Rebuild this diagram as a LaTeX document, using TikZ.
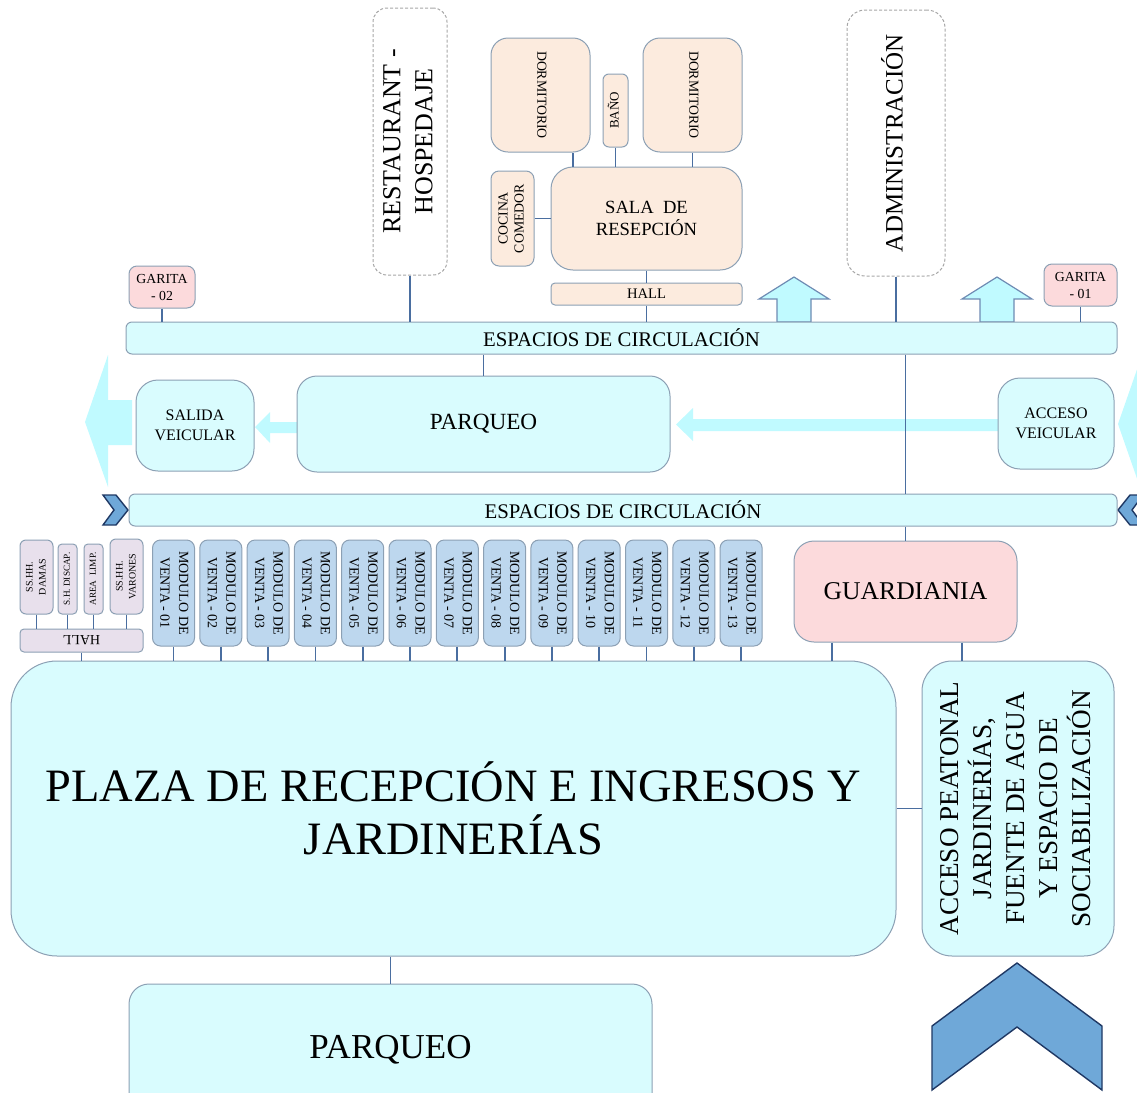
\documentclass[tikz,border=0pt]{standalone}
\usepackage{fontspec}
\setmainfont{Liberation Serif}
\usepackage{graphicx}
\usetikzlibrary{positioning,calc}

\definecolor{cyanbox}{RGB}{217,252,254}
\definecolor{cyanarrow}{RGB}{192,250,255}
\definecolor{peach}{RGB}{252,235,222}
\definecolor{pinkbox}{RGB}{252,218,220}
\definecolor{lilac}{RGB}{232,224,236}
\definecolor{modblue}{RGB}{189,215,238}
\definecolor{edgegray}{RGB}{140,160,180}
\definecolor{wirecol}{RGB}{74,110,160}
\definecolor{chevfill}{RGB}{111,168,216}
\definecolor{chevline}{RGB}{31,56,100}

\newcommand{\setfs}[2]{\fontsize{#1}{#2}\selectfont}
\newcommand{\vtext}[2]{\rotatebox{#1}{\begin{tabular}{@{}c@{}}#2\end{tabular}}}

\begin{document}
\begin{tikzpicture}[x=0.5pt, y=-0.5pt,
  box/.style={draw=edgegray, line width=0.5pt, inner sep=0pt, align=center},
  wh/.style 2 args={minimum width=#1*0.5pt, minimum height=#2*0.5pt},
  fs/.style 2 args={font=\setfs{#1}{#2}},
  dashbox/.style={box, draw=gray!70, dash pattern=on 1.5pt off 1pt},
  wire/.style={draw=wirecol, line width=0.9pt},
  flow/.style={fill=cyanarrow},
  uparrow/.style={fill=cyanarrow, draw=wirecol!80, line width=0.6pt},
  chev/.style={fill=chevfill, draw=chevline, line width=0.7pt, line join=miter}]
  \useasboundingbox (0,0) rectangle (1137,1093);

  % vehicle flow arrows (behind everything)
  \fill[flow] (85,422) -- (108,355) -- (108,400) -- (132,400) -- (132,445) -- (108,445) -- (108,487) -- cycle;
  \fill[flow] (1118,424) -- (1141,358) -- (1141,402) -- (1170,402) -- (1170,447) -- (1141,447) -- (1141,490) -- cycle;
  \fill[flow] (255,427) -- (270,412) -- (270,422) -- (297,422) -- (297,433) -- (270,433) -- (270,443) -- cycle;
  \fill[flow] (676,424.5) -- (693,408) -- (693,419) -- (998,419) -- (998,431) -- (693,431) -- (693,441) -- cycle;
  % access arrows on the upper circulation
  \foreach \ax in {794,997}
    \draw[uparrow] (\ax-17,322) -- (\ax-17,299) -- (\ax-35,299) -- (\ax,277)
      -- (\ax+35,299) -- (\ax+17,299) -- (\ax+17,322) -- cycle;
  % chevrons
  \draw[chev] (103,495) -- (116,495) -- (128,510) -- (116,525) -- (103,525) -- (114,510) -- cycle;
  \draw[chev] (1118,510) -- (1130,495) -- (1143,495) -- (1132,510) -- (1143,525) -- (1130,525) -- cycle;
  \draw[chev] (1017,963) -- (1102,1026) -- (1102,1090) -- (1017,1027) -- (932,1090) -- (932,1026) -- cycle;

  % upper block: restaurant, lodging, administration
  \node[dashbox, wh={74}{267}, rounded corners=7pt, fs={13}{16}] (rest) at (410,141.5)
    {\vtext{90}{RESTAURANT -\\HOSPEDAJE}};
  \node[box, fill=peach, wh={99}{114}, rounded corners=8.5pt, fs={6.9}{8}] (dormA) at (540.5,95)
    {\vtext{-90}{DORMITORIO}};
  \node[box, fill=peach, wh={25}{73}, rounded corners=3pt, fs={6.5}{8}] (bano) at (615.5,110.5)
    {\vtext{90}{BAÑO}};
  \node[box, fill=peach, wh={99}{114}, rounded corners=8.5pt, fs={6.9}{8}] (dormB) at (692.5,95)
    {\vtext{-90}{DORMITORIO}};
  \node[box, fill=peach, wh={43}{95}, rounded corners=4pt, fs={6.9}{8}] (cocina) at (512.5,218.5)
    {\vtext{90}{COCINA\\COMEDOR}};
  \node[box, fill=peach, wh={191}{103}, rounded corners=11pt, fs={9.3}{11}] (sala) at (646.5,218.5)
    {SALA\ \ DE\\RESEPCIÓN};
  \node[box, fill=peach, wh={191}{22}, rounded corners=2pt, fs={7.3}{8}] (hallA) at (646.5,294)
    {HALL};
  \node[dashbox, wh={98}{266}, rounded corners=9pt, fs={12.5}{14}] (admin) at (896,143)
    {\vtext{90}{ADMINISTRACIÓN}};
  \node[box, fill=pinkbox, wh={66}{42}, rounded corners=4pt, fs={6.9}{8.5}] (garB) at (162,287)
    {GARITA\\- 02};
  \node[box, fill=pinkbox, wh={73}{42}, rounded corners=4pt, fs={6.9}{8.5}] (garA) at (1080.5,285)
    {GARITA\\- 01};

  % circulation and parking
  \node[box, fill=cyanbox, wh={991}{32}, rounded corners=3pt, fs={10.4}{12}] (circA) at (621.5,338)
    {ESPACIOS DE CIRCULACIÓN};
  \node[box, fill=cyanbox, wh={118}{91}, rounded corners=11pt, fs={8}{10}] (salida) at (195,425.5)
    {SALIDA\\VEICULAR};
  \node[box, fill=cyanbox, wh={373}{96}, rounded corners=10pt, fs={11.6}{13}] (parqA) at (483.5,424)
    {PARQUEO};
  \node[box, fill=cyanbox, wh={116}{91}, rounded corners=11pt, fs={8}{10}] (acceso) at (1056,423.5)
    {ACCESO\\VEICULAR};
  \node[box, fill=cyanbox, wh={988}{32}, rounded corners=3pt, fs={10.4}{12}] (circB) at (623,510)
    {ESPACIOS DE CIRCULACIÓN};

  % plaza, pedestrian access, lower parking
  \node[box, fill=cyanbox, wh={885}{295}, rounded corners=23pt, fs={23.2}{26.5}] (plaza) at (453.5,808.5)
    {PLAZA DE RECEPCIÓN E INGRESOS Y\\JARDINERÍAS};
  \node[box, fill=cyanbox, wh={192}{295}, rounded corners=15pt, fs={13.6}{16.5}] (peatonal) at (1018,808.5)
    {\vtext{90}{ACCESO PEATONAL\\JARDINERÍAS,\\FUENTE DE AGUA\\Y ESPACIO DE\\SOCIABILIZACIÓN}};
  \node[box, fill=cyanbox, wh={523}{132}, rounded corners=10pt, fs={17.5}{19}] (parqB) at (390.5,1050)
    {PARQUEO};
  \node[box, fill=pinkbox, wh={223}{101}, rounded corners=10pt, fs={12.8}{14}] (guard) at (905.5,591.5)
    {GUARDIANIA};

  % toilets and hall
  \node[box, fill=lilac, wh={33}{74}, rounded corners=3pt, fs={5}{6.5}] (damas) at (36.5,577)
    {\vtext{90}{SS.HH.\\DAMAS}};
  \node[box, fill=lilac, wh={19}{70}, rounded corners=2pt, fs={4.6}{6}] (discap) at (67.5,579)
    {\vtext{90}{S.H. DISCAP.}};
  \node[box, fill=lilac, wh={19}{70}, rounded corners=2pt, fs={4.6}{6}] (limp) at (93.5,579)
    {\vtext{90}{AREA\ \ LIMP.}};
  \node[box, fill=lilac, wh={33}{75}, rounded corners=3pt, fs={5}{6.5}] (varones) at (126.5,576.5)
    {\vtext{90}{SS.HH.\\VARONES}};
  \node[box, fill=lilac, wh={123}{23}, rounded corners=2pt, fs={7}{8}] (hallB) at (81.5,640.5)
    {\rotatebox{180}{HALL}};

  % sales modules
  \foreach \i in {1,...,13}{
    \pgfmathsetmacro\mx{173.5+(\i-1)*47.3}
    \node[box, fill=modblue, wh={42}{106}, rounded corners=4pt, fs={7}{9.3}] (m\i) at (\mx,593)
      {\vtext{-90}{MODULO DE\\VENTA - \ifnum\i<10 0\fi\i}};
    \draw[wire] (m\i.south) -- (m\i.south |- plaza.north);
  }

  % connectors
  \draw[wire] (rest.south) -- (rest.south |- circA.north);
  \draw[wire] ($(dormA.south)+(32.5,0)$) coordinate (dA) -- (dA |- sala.north);
  \draw[wire] (bano.south) -- (bano.south |- sala.north);
  \draw[wire] (dormB.south) -- (dormB.south |- sala.north);
  \draw[wire] (cocina.east) -- (cocina.east -| sala.west);
  \draw[wire] (sala.south) -- (hallA.north);
  \draw[wire] (hallA.south) -- (hallA.south |- circA.north);
  \draw[wire] (admin.south) -- (admin.south |- circA.north);
  \draw[wire] (garB.south) -- (garB.south |- circA.north);
  \draw[wire] (garA.south) -- (garA.south |- circA.north);
  \draw[wire] (parqA.north |- circA.south) -- (parqA.north);
  \draw[wire] (guard.north |- circA.south) -- (guard.north |- circB.north);
  \draw[wire] (guard.north |- circB.south) -- (guard.north);
  \foreach \t in {damas,discap,limp,varones}
    \draw[wire] (\t.south) -- (\t.south |- hallB.north);
  \draw[wire] (hallB.south) -- (hallB.south |- plaza.north);
  \draw[wire] ($(guard.south)+(-73.5,0)$) coordinate (gL) -- (gL |- plaza.north);
  \draw[wire] ($(guard.south)+(56.5,0)$) coordinate (gR) -- (gR |- peatonal.north);
  \draw[wire] (plaza.east) -- (peatonal.west);
  \draw[wire] (parqB.north |- plaza.south) -- (parqB.north);
\end{tikzpicture}
\end{document}
